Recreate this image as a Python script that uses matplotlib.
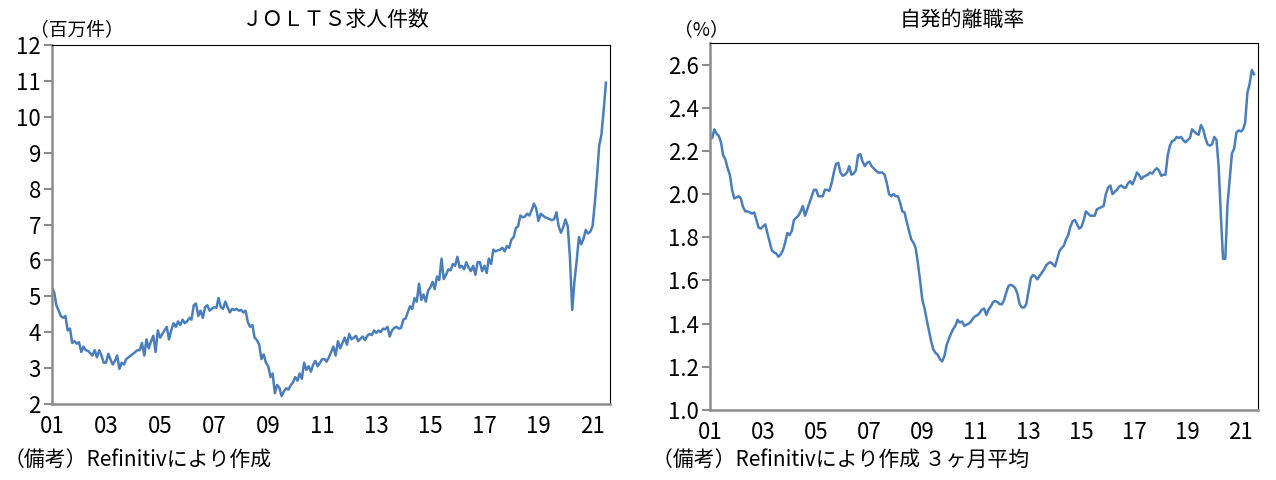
import matplotlib
matplotlib.use("Agg")
import matplotlib.pyplot as plt
import pandas as pd

plt.rcParams['font.family'] = ['Noto Sans CJK JP', 'DejaVu Sans']

# JOLTS job openings, millions, Jan 2001 - Jul 2021
jolts = [
    5.25, 5.10, 4.75, 4.60, 4.45, 4.40, 4.45, 4.05, 4.10, 3.70, 3.75, 3.68,  # 2001
    3.72, 3.45, 3.60, 3.50, 3.48, 3.42, 3.35, 3.50, 3.30, 3.50, 3.35, 3.15,  # 2002
    3.15, 3.40, 3.25, 3.10, 3.20, 3.35, 2.98, 3.15, 3.10, 3.25, 3.30, 3.35,  # 2003
    3.40, 3.45, 3.50, 3.50, 3.70, 3.35, 3.80, 3.55, 3.75, 3.90, 3.45, 4.05,  # 2004
    3.85, 3.95, 4.05, 4.15, 3.80, 4.05, 4.25, 4.15, 4.30, 4.20, 4.35, 4.25,  # 2005
    4.30, 4.40, 4.35, 4.75, 4.80, 4.45, 4.60, 4.40, 4.70, 4.75, 4.60, 4.65,  # 2006
    4.70, 4.68, 4.95, 4.70, 4.65, 4.85, 4.70, 4.55, 4.65, 4.62, 4.65, 4.60,  # 2007
    4.62, 4.55, 4.60, 4.28, 4.15, 4.20, 3.85, 3.78, 3.65, 3.25, 3.38, 3.15,  # 2008
    3.05, 2.75, 2.85, 2.30, 2.53, 2.45, 2.22, 2.35, 2.44, 2.40, 2.52, 2.60,  # 2009
    2.75, 2.65, 2.85, 2.70, 3.15, 2.95, 3.05, 2.90, 3.10, 3.20, 3.05, 3.15,  # 2010
    3.25, 3.25, 3.18, 3.30, 3.45, 3.60, 3.35, 3.75, 3.55, 3.70, 3.85, 3.65,  # 2011
    3.95, 3.80, 3.85, 3.90, 3.75, 3.82, 3.88, 3.78, 3.90, 3.95, 3.92, 4.05,  # 2012
    3.98, 4.05, 4.00, 4.10, 4.08, 4.15, 3.88, 4.05, 4.12, 4.15, 4.10, 4.12,  # 2013
    4.35, 4.38, 4.55, 4.72, 4.65, 4.95, 4.85, 5.35, 4.90, 5.05, 4.85, 5.15,  # 2014
    5.25, 5.40, 5.20, 5.55, 5.45, 6.05, 5.48, 5.60, 5.75, 5.72, 5.90, 5.85,  # 2015
    6.10, 5.80, 5.85, 5.75, 5.95, 5.80, 5.70, 5.85, 5.60, 5.95, 5.95, 5.70,  # 2016
    5.85, 5.65, 6.05, 5.90, 6.30, 6.25, 6.28, 6.30, 6.35, 6.25, 6.40, 6.35,  # 2017
    6.58, 6.65, 6.90, 6.95, 7.25, 7.20, 7.22, 7.30, 7.25, 7.40, 7.58, 7.45,  # 2018
    7.10, 7.30, 7.25, 7.20, 7.18, 7.15, 7.12, 7.15, 7.34, 6.95, 6.77, 6.92,  # 2019
    7.14, 6.95, 6.10, 4.62, 5.40, 6.00, 6.65, 6.45, 6.60, 6.85, 6.75, 6.80,  # 2020
    6.95, 7.60, 8.30, 9.20, 9.50, 10.20, 10.95,                              # 2021
]

# quits rate, %, 3-month average, Jan 2001 - Jul 2021
quits = [
    2.26, 2.26, 2.30, 2.28, 2.27, 2.24, 2.18, 2.16, 2.12, 2.09, 2.02, 1.98,  # 2001
    1.985, 1.99, 1.98, 1.94, 1.92, 1.92, 1.915, 1.91, 1.915, 1.88, 1.845, 1.84,  # 2002
    1.85, 1.86, 1.82, 1.78, 1.74, 1.73, 1.725, 1.71, 1.72, 1.74, 1.775, 1.82,  # 2003
    1.81, 1.83, 1.88, 1.89, 1.90, 1.92, 1.945, 1.90, 1.93, 1.96, 1.99, 2.02,  # 2004
    2.02, 1.99, 1.99, 1.99, 2.02, 2.02, 2.015, 2.05, 2.10, 2.14, 2.145, 2.10,  # 2005
    2.085, 2.09, 2.10, 2.13, 2.09, 2.095, 2.11, 2.18, 2.185, 2.15, 2.13, 2.145,  # 2006
    2.15, 2.13, 2.12, 2.11, 2.10, 2.10, 2.10, 2.09, 2.05, 2.00, 1.99, 2.00,  # 2007
    1.99, 1.99, 1.96, 1.92, 1.915, 1.87, 1.83, 1.79, 1.775, 1.75, 1.68, 1.60,  # 2008
    1.51, 1.47, 1.42, 1.37, 1.32, 1.28, 1.265, 1.255, 1.235, 1.225, 1.25, 1.30,  # 2009
    1.33, 1.355, 1.375, 1.39, 1.418, 1.405, 1.41, 1.39, 1.395, 1.40, 1.41, 1.425,  # 2010
    1.435, 1.44, 1.45, 1.465, 1.47, 1.44, 1.465, 1.48, 1.50, 1.505, 1.50, 1.49,  # 2011
    1.49, 1.51, 1.545, 1.575, 1.58, 1.575, 1.565, 1.54, 1.49, 1.475, 1.475, 1.49,  # 2012
    1.55, 1.61, 1.625, 1.62, 1.605, 1.62, 1.635, 1.65, 1.67, 1.68, 1.685, 1.675,  # 2013
    1.665, 1.70, 1.735, 1.75, 1.76, 1.79, 1.81, 1.85, 1.875, 1.88, 1.86, 1.84,  # 2014
    1.85, 1.88, 1.92, 1.91, 1.90, 1.90, 1.90, 1.93, 1.935, 1.94, 1.945, 2.00,  # 2015
    2.03, 2.04, 2.00, 2.01, 2.02, 2.035, 2.04, 2.03, 2.03, 2.05, 2.06, 2.045,  # 2016
    2.07, 2.10, 2.09, 2.07, 2.08, 2.085, 2.09, 2.10, 2.095, 2.11, 2.12, 2.11,  # 2017
    2.085, 2.09, 2.09, 2.18, 2.225, 2.245, 2.25, 2.265, 2.26, 2.265, 2.25, 2.24,  # 2018
    2.25, 2.26, 2.30, 2.29, 2.28, 2.275, 2.32, 2.30, 2.26, 2.23, 2.225, 2.23,  # 2019
    2.265, 2.25, 2.13, 1.90, 1.70, 1.70, 1.95, 2.07, 2.19, 2.21, 2.285, 2.295,  # 2020
    2.29, 2.30, 2.33, 2.47, 2.51, 2.575, 2.555,                               # 2021
]

dates = pd.date_range('2001-01-01', periods=len(jolts), freq='MS')
year_ticks = [pd.Timestamp(f'{y}-01-01') for y in range(2001, 2022, 2)]
year_labels = [f'{y % 100:02d}' for y in range(2001, 2022, 2)]

line_color = '#4a7ebb'
grey = '#8c8c8c'

fig = plt.figure(figsize=(12.76, 4.8), dpi=100)
W, H = 1276, 480


def style_axes(ax, yticks, ylabels, ylim):
    ax.set_xlim(pd.Timestamp('2001-01-01'), pd.Timestamp('2021-08-25'))
    ax.set_ylim(*ylim)
    ax.set_xticks(year_ticks)
    ax.set_xticklabels(year_labels)
    ax.set_yticks(yticks)
    ax.set_yticklabels(ylabels)
    ax.tick_params(axis='x', length=0, pad=8, labelsize=16)
    ax.tick_params(axis='y', length=6, width=1.5, color=grey, direction='out', pad=2, labelsize=16)
    for s in ['left', 'bottom']:
        ax.spines[s].set_color(grey)
        ax.spines[s].set_linewidth(1.8)
    for s in ['top', 'right']:
        ax.spines[s].set_color('black')
        ax.spines[s].set_linewidth(0.8)


# left: job openings
ax1 = fig.add_axes([52 / W, 1 - 404 / H, 558 / W, 359 / H])
ax1.plot(dates, jolts, color=line_color, linewidth=1.8)
yt1 = list(range(2, 13))
style_axes(ax1, yt1, [str(v) for v in yt1], (2, 12))
fig.text(336 / W, 1 - 20 / H, 'ＪＯＬＴＳ求人件数', ha='center', va='center', fontsize=15)
fig.text(30 / W, 1 - 30 / H, '（百万件）', ha='left', va='center', fontsize=13.5)
fig.text(4 / W, 1 - 460 / H, '（備考）Refinitivにより作成', ha='left', va='center', fontsize=15)

# right: quits rate
ax2 = fig.add_axes([710 / W, 1 - 410 / H, 548 / W, 367 / H])
ax2.plot(dates, quits, color=line_color, linewidth=1.8)
yt2 = [1.0, 1.2, 1.4, 1.6, 1.8, 2.0, 2.2, 2.4, 2.6]
style_axes(ax2, yt2, [f'{v:.1f}' for v in yt2], (1.0, 2.7))
fig.text(962 / W, 1 - 20 / H, '自発的離職率', ha='center', va='center', fontsize=15)
fig.text(674 / W, 1 - 30 / H, '（%）', ha='left', va='center', fontsize=13.5)
fig.text(652 / W, 1 - 460 / H, '（備考）Refinitivにより作成 ３ヶ月平均', ha='left', va='center', fontsize=15)

fig.savefig('out.png', dpi=100)
